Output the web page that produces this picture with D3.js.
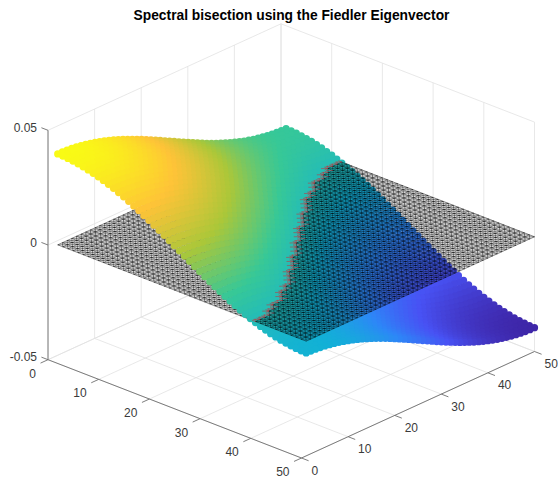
<!DOCTYPE html>
<html>
<head>
<meta charset="utf-8">
<script src="https://cdn.jsdelivr.net/npm/d3@7"></script>
<style>
  html, body { margin: 0; padding: 0; background: #fff; }
  svg { display: block; }
  text { font-family: "Liberation Sans", Arial, sans-serif; }
</style>
</head>
<body>
<div id="chart"></div>
<script>
const title = 'Spectral bisection using the Fiedler Eigenvector';

// height contribution of each grid column / row
const uProfile = [
  0.02239, 0.02230, 0.02212, 0.02186, 0.02151, 0.02108, 0.02056, 0.01996, 0.01928, 0.01853,
  0.01770, 0.01680, 0.01584, 0.01481, 0.01373, 0.01259, 0.01140, 0.01017, 0.00890, 0.00759,
  0.00625, 0.00489, 0.00350, 0.00211, 0.00070, -0.00070, -0.00211, -0.00350, -0.00489, -0.00625,
  -0.00759, -0.00890, -0.01017, -0.01140, -0.01259, -0.01373, -0.01481, -0.01584, -0.01680, -0.01770,
  -0.01853, -0.01928, -0.01996, -0.02056, -0.02108, -0.02151, -0.02186, -0.02212, -0.02230, -0.02239
];
const vProfile = [
  0.01724, 0.01717, 0.01704, 0.01683, 0.01657, 0.01623, 0.01583, 0.01537, 0.01485, 0.01427,
  0.01363, 0.01294, 0.01220, 0.01141, 0.01057, 0.00970, 0.00878, 0.00783, 0.00685, 0.00584,
  0.00481, 0.00376, 0.00270, 0.00162, 0.00054, -0.00054, -0.00162, -0.00270, -0.00376, -0.00481,
  -0.00584, -0.00685, -0.00783, -0.00878, -0.00970, -0.01057, -0.01141, -0.01220, -0.01294, -0.01363,
  -0.01427, -0.01485, -0.01537, -0.01583, -0.01623, -0.01657, -0.01683, -0.01704, -0.01717, -0.01724
];
const uTicks = [0, 10, 20, 30, 40, 50];
const vTicks = [0, 10, 20, 30, 40, 50];
const zTicks = [-0.05, 0, 0.05];
const zTickLabels = ['-0.05', '0', '0.05'];
const parula = ['#3e26a8', '#4852f4', '#2d87f7', '#12b1d6', '#37c897', '#abc739', '#fec338', '#f9fb15'];

const width = 558;
const height = 482;

// box corners on screen: floor left, front and right
const left = [48, 359.7];
const front = [301.5, 458];
const right = [534.5, 351.5];

const uX = d3.scaleLinear().domain([0, 50]).range([0, front[0] - left[0]]);
const uY = d3.scaleLinear().domain([0, 50]).range([0, front[1] - left[1]]);
const vX = d3.scaleLinear().domain([0, 50]).range([0, right[0] - front[0]]);
const vY = d3.scaleLinear().domain([0, 50]).range([0, right[1] - front[1]]);
const zY = d3.scaleLinear().domain([-0.05, 0.05]).range([0, -229.4]);

const px = d => left[0] + uX(d.u) + vX(d.v);
const py = d => left[1] + uY(d.u) + vY(d.v) + zY(d.z);

const svg = d3.select('#chart')
  .append('svg')
  .attr('width', width)
  .attr('height', height)
  .attr('viewBox', [0, 0, width, height]);

// nodes of the 50 x 50 grid
const nodes = [];
uProfile.forEach((zu, i) => {
  vProfile.forEach((zv, j) => {
    nodes.push({ u: i + 1, v: j + 1, z: zu + zv, i, j });
  });
});
const nodeAt = (i, j) => nodes[i * 50 + j];

const colorStops = parula.map((c, i) => i / (parula.length - 1));
const color = d3.scaleLinear()
  .domain(colorStops.map(t => d3.interpolateNumber(...d3.extent(nodes, d => d.z))(t)))
  .range(parula);

// back walls and floor grid
const gridPath = d3.path();
function seg(path, a, b) {
  path.moveTo(px(a), py(a));
  path.lineTo(px(b), py(b));
}
uTicks.forEach(t => {
  seg(gridPath, { u: t, v: 0, z: -0.05 }, { u: t, v: 50, z: -0.05 });
  seg(gridPath, { u: t, v: 50, z: -0.05 }, { u: t, v: 50, z: 0.05 });
});
vTicks.forEach(t => {
  seg(gridPath, { u: 0, v: t, z: -0.05 }, { u: 50, v: t, z: -0.05 });
  seg(gridPath, { u: 0, v: t, z: -0.05 }, { u: 0, v: t, z: 0.05 });
});
zTicks.forEach(t => {
  seg(gridPath, { u: 0, v: 0, z: t }, { u: 0, v: 50, z: t });
  seg(gridPath, { u: 0, v: 50, z: t }, { u: 50, v: 50, z: t });
});
svg.append('path')
  .attr('d', gridPath.toString())
  .attr('fill', 'none')
  .attr('stroke', '#e2e2e2')
  .attr('stroke-width', 0.8);

// axes
const axisColor = '#6e6e6e';
const axisPath = d3.path();
seg(axisPath, { u: 0, v: 0, z: -0.05 }, { u: 0, v: 0, z: 0.05 });
seg(axisPath, { u: 0, v: 0, z: -0.05 }, { u: 50, v: 0, z: -0.05 });
seg(axisPath, { u: 50, v: 0, z: -0.05 }, { u: 50, v: 50, z: -0.05 });
uTicks.forEach(t => seg(axisPath, { u: t, v: 0, z: -0.05 }, { u: t, v: -1.6, z: -0.05 }));
vTicks.forEach(t => seg(axisPath, { u: 50, v: t, z: -0.05 }, { u: 51.4, v: t, z: -0.05 }));
zTicks.forEach(t => seg(axisPath, { u: 0, v: 0, z: t }, { u: -1.3, v: 0, z: t }));
svg.append('path')
  .attr('d', axisPath.toString())
  .attr('fill', 'none')
  .attr('stroke', axisColor)
  .attr('stroke-width', 0.9);

const tickFont = 12;
const labels = svg.append('g')
  .attr('font-size', tickFont)
  .attr('fill', '#3a3a3a');

labels.selectAll('.u-label')
  .data(uTicks)
  .join('text')
  .attr('class', 'u-label')
  .attr('text-anchor', 'end')
  .attr('x', t => px({ u: t, v: 0, z: -0.05 }) - 12)
  .attr('y', t => py({ u: t, v: 0, z: -0.05 }) + 18)
  .text(t => t);

labels.selectAll('.v-label')
  .data(vTicks)
  .join('text')
  .attr('class', 'v-label')
  .attr('text-anchor', 'start')
  .attr('x', t => px({ u: 50, v: t, z: -0.05 }) + 10)
  .attr('y', t => py({ u: 50, v: t, z: -0.05 }) + 16.5)
  .text(t => t);

labels.selectAll('.z-label')
  .data(zTicks)
  .join('text')
  .attr('class', 'z-label')
  .attr('text-anchor', 'end')
  .attr('x', 37)
  .attr('y', t => py({ u: 0, v: 0, z: t }) + 1.5)
  .text((t, i) => zTickLabels[i]);

// nearest points are drawn last
const nearness = d => 1.73 * (uY(d.u) + vY(d.v)) - 0.58 * zY(d.z);
const dotRadius = 3.62;

function drawDots(data) {
  svg.append('g')
    .selectAll('circle')
    .data(data.slice().sort((a, b) => nearness(a) - nearness(b)))
    .join('circle')
    .attr('cx', px)
    .attr('cy', py)
    .attr('r', dotRadius)
    .attr('fill', d => color(d.z));
}

drawDots(nodes.filter(d => d.z < 0));

// triangular mesh lying on z = 0, cut edges go in red
const meshBlack = d3.path();
const meshRed = d3.path();
function meshEdge(a, b) {
  if (a.z * b.z < 0) {
    const [neg, pos] = a.z < 0 ? [a, b] : [b, a];
    // the far end of a cut edge disappears under the raised dots
    seg(meshRed, { u: neg.u, v: neg.v, z: 0 },
      { u: neg.u + (pos.u - neg.u) * 0.7, v: neg.v + (pos.v - neg.v) * 0.7, z: 0 });
  } else {
    seg(meshBlack, { u: a.u, v: a.v, z: 0 }, { u: b.u, v: b.v, z: 0 });
  }
}
for (let i = 0; i < 50; i++) {
  for (let j = 0; j < 50; j++) {
    if (i < 49) meshEdge(nodeAt(i, j), nodeAt(i + 1, j));
    if (j < 49) meshEdge(nodeAt(i, j), nodeAt(i, j + 1));
    if (i < 49 && j < 49) {
      meshEdge(nodeAt(i, j), nodeAt(i + 1, j + 1));
      meshEdge(nodeAt(i + 1, j), nodeAt(i, j + 1));
    }
  }
}
svg.append('path')
  .attr('d', meshBlack.toString())
  .attr('fill', 'none')
  .attr('stroke', '#000')
  .attr('stroke-width', 0.45);

drawDots(nodes.filter(d => d.z >= 0));

svg.append('path')
  .attr('d', meshRed.toString())
  .attr('fill', 'none')
  .attr('stroke', '#d8202a')
  .attr('stroke-width', 0.5);

svg.append('text')
  .attr('x', 291.5)
  .attr('y', 19.5)
  .attr('text-anchor', 'middle')
  .attr('font-size', 13.8)
  .attr('font-weight', 'bold')
  .attr('fill', '#000')
  .text(title);
</script>
</body>
</html>
